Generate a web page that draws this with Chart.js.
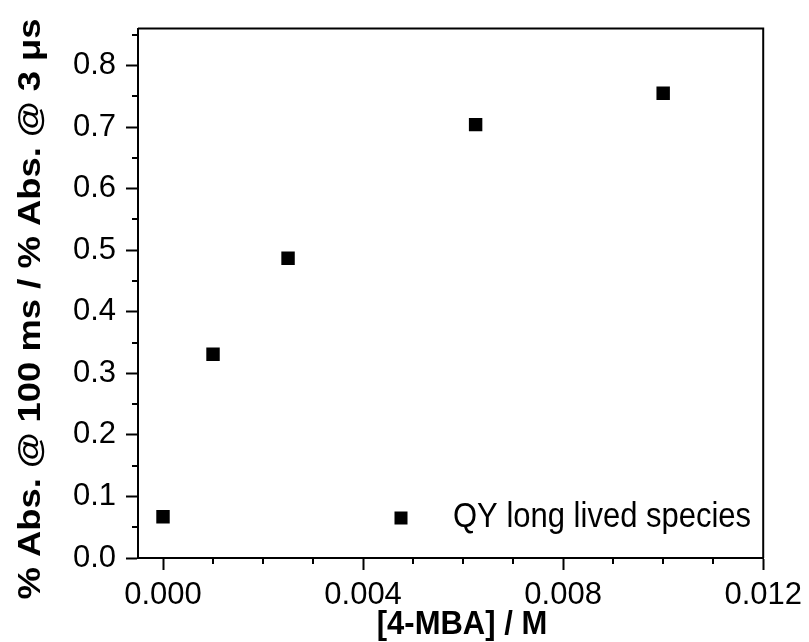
<!DOCTYPE html>
<html><head><meta charset="utf-8">
<script src="https://cdn.jsdelivr.net/npm/chart.js@4/dist/chart.umd.min.js"></script>
<style>html,body{margin:0;padding:0;background:#fff}</style>
</head><body>
<canvas id="c" width="809" height="642" style="display:block;width:809px;height:642px"></canvas>
<script>
const concentrations = [0, 0.001, 0.0025, 0.00625, 0.01];
const ratioValues = [0.067, 0.331, 0.487, 0.704, 0.755];
const seriesLabel = 'QY long lived species';
const xTitle = '[4-MBA] / M';
const yTitle = '% Abs. @ 100 ms / % Abs. @ 3 \u03bcs';
const xMajorTicks = [0, 0.004, 0.008, 0.012];
const xMinorTicks = [0.001, 0.002, 0.003, 0.005, 0.006, 0.007, 0.009, 0.010, 0.011];
const yMajorTicks = [0, 0.1, 0.2, 0.3, 0.4, 0.5, 0.6, 0.7, 0.8];
const yMinorTicks = [0.05, 0.15, 0.25, 0.35, 0.45, 0.55, 0.65, 0.75, 0.85];

const FONT = "'Liberation Sans', Arial, sans-serif";
Chart.defaults.font.family = FONT;
Chart.defaults.color = '#000';

const framePlugin = {
  id: 'frame',
  afterDraw(chart) {
    const ctx = chart.ctx, a = chart.chartArea;
    const xs = chart.scales.x, ys = chart.scales.y;
    ctx.save();
    ctx.strokeStyle = '#000';
    ctx.lineWidth = 2;
    ctx.beginPath();
    ctx.moveTo(a.left, a.top); ctx.lineTo(a.right, a.top); ctx.lineTo(a.right, a.bottom);
    ctx.stroke();
    ctx.beginPath();
    yMinorTicks.forEach(v => { const y = Math.round(ys.getPixelForValue(v)); ctx.moveTo(a.left - 6, y); ctx.lineTo(a.left, y); });
    xMinorTicks.forEach(v => { const x = Math.round(xs.getPixelForValue(v)); ctx.moveTo(x, a.bottom); ctx.lineTo(x, a.bottom + 6); });
    ctx.stroke();
    // legend
    const ds = chart.data.datasets[0];
    const lx = 401, ly = 518, s = 13;
    ctx.fillStyle = ds.backgroundColor;
    ctx.fillRect(lx - s / 2, ly - s / 2, s, s);
    ctx.fillStyle = '#000';
    ctx.font = "31px " + FONT;
    ctx.textBaseline = 'alphabetic';
    ctx.textAlign = 'left';
    ctx.save();
    ctx.translate(453, 527);
    ctx.scale(1, 1.12);
    ctx.fillText(ds.label, 0, 0);
    ctx.restore();
    // axis titles
    ctx.font = "bold 31px " + FONT;
    ctx.textAlign = 'center';
    ctx.save();
    ctx.translate(462, 634);
    ctx.scale(1, 1.1);
    ctx.fillText(xTitle, 0, 0);
    ctx.restore();
    ctx.save();
    ctx.translate(40, 309);
    ctx.rotate(-Math.PI / 2);
    ctx.scale(1.175, 1);
    ctx.fillText(yTitle, 0, 0);
    ctx.restore();
    ctx.restore();
  }
};

new Chart(document.getElementById('c'), {
  type: 'scatter',
  data: {
    datasets: [{
      label: seriesLabel,
      data: concentrations.map((x, i) => ({x, y: ratioValues[i]})),
      pointStyle: 'rect',
      pointRadius: 9.5,
      pointHoverRadius: 9.5,
      backgroundColor: '#000',
      borderColor: '#000',
      borderWidth: 0
    }]
  },
  options: {
    responsive: false,
    animation: false,
    events: [],
    layout: {padding: {top: 16, right: 44, left: 0, bottom: 0}},
    plugins: {legend: {display: false}, tooltip: {enabled: false}},
    scales: {
      x: {
        type: 'linear', min: -0.0005, max: 0.012,
        afterBuildTicks: s => { s.ticks = xMajorTicks.map(v => ({value: v})); },
        afterFit: s => { s.height = 84; },
        ticks: {callback: v => Number(v).toFixed(3), font: {size: 31}, color: '#000', padding: 7, maxRotation: 0, autoSkip: false},
        grid: {display: true, drawOnChartArea: false, drawTicks: true, tickLength: 12, tickWidth: 2, tickColor: '#000'},
        border: {display: true, color: '#000', width: 2},
        title: {display: false}
      },
      y: {
        type: 'linear', min: 0, max: 0.86,
        afterBuildTicks: s => { s.ticks = yMajorTicks.map(v => ({value: v})); },
        afterFit: s => { s.width = 138; },
        ticks: {callback: v => Number(v).toFixed(1), font: {size: 31}, color: '#000', padding: 10, autoSkip: false},
        grid: {display: true, drawOnChartArea: false, drawTicks: true, tickLength: 12, tickWidth: 2, tickColor: '#000'},
        border: {display: true, color: '#000', width: 2},
        title: {display: false}
      }
    }
  },
  plugins: [framePlugin]
});
</script>
</body></html>
